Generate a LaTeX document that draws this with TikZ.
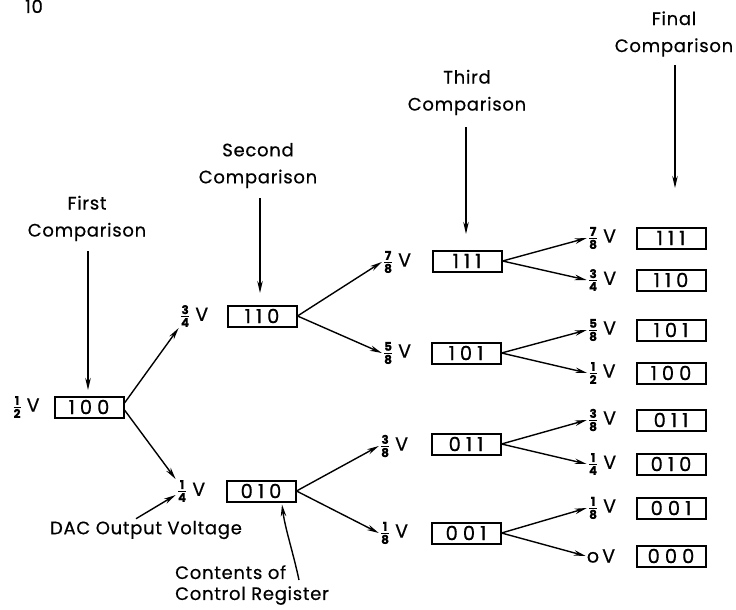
\documentclass[tikz,border=0pt]{standalone}
\usepackage{amsmath}
\usepackage{fontspec}
\setmainfont{Poppins}[LetterSpace=4,FakeBold=0.5]
\usetikzlibrary{arrows.meta}
\newcommand\fr[2]{$\genfrac{}{}{1.1pt}{}{\hbox{\fontsize{12}{12}\selectfont\bfseries #1}}{\hbox{\fontsize{12}{12}\selectfont\bfseries #2}}$\hspace{5pt}}
\newcommand\bits[3]{#1\hspace{5pt}#2\hspace{5pt}#3}
\begin{document}
\begin{tikzpicture}[x=1pt,y=-1pt,
  reg/.style={draw,line width=2pt,minimum width=69pt,minimum height=21pt,inner sep=0pt,font=\fontsize{19.5}{19.5}\selectfont},
  volt/.style={inner sep=1pt,font=\fontsize{19}{19}\selectfont},
  capt/.style={align=center,font=\fontsize{18}{27}\selectfont,inner sep=0pt},
  arr/.style={line width=1.4pt,-{Stealth[length=12pt,width=5.5pt]}},
  note/.style={font=\fontsize{18}{21}\selectfont,inner sep=0pt}]
\useasboundingbox (0,0) rectangle (736,610);
\fill[white] (0,0) rectangle (736,610);

\node[anchor=base,font=\fontsize{18}{18}\selectfont] (pg) at (34,13) {10};

% captions
\node[capt] (c1) at (87,218.5) {First\\Comparison};
\node[capt] (c2) at (258,165.5) {Second\\Comparison};
\node[capt] (c3) at (467,92.5) {Third\\Comparison};
\node[capt] (c4) at (674,34) {Final\\Comparison};
\coordinate (t1) at (88,390);
\coordinate (t2) at (260,293);
\coordinate (t3) at (466,234);
\coordinate (t4) at (675,188);
\draw[arr] (c1.south -| t1) ++(0,10) -- (t1);
\draw[arr] (c2.south -| t2) ++(0,10) -- (t2);
\draw[arr] (c3.south -| t3) ++(0,12) -- (t3);
\draw[arr] (c4.south -| t4) ++(0,8) -- (t4);

% first level
\node[reg] (b100) at (89,407) {\bits100};
\node[volt] (v100) at (26,407) {\fr12V};

% second level
\node[reg] (b110) at (262,316) {\bits110};
\node[volt] (v110) at (194,316) {\fr34V};
\node[reg] (b010) at (261,491) {\bits010};
\node[volt] (v010) at (191,491) {\fr14V};

% third level
\node[reg] (b111) at (467,261) {\bits111};
\node[volt] (v111) at (397,262) {\fr78V};
\node[reg] (b101) at (466,353) {\bits101};
\node[volt] (v101) at (397,353) {\fr58V};
\node[reg] (b011) at (466,444) {\bits011};
\node[volt] (v011) at (394,446) {\fr38V};
\node[reg] (b001) at (466,533) {\bits001};
\node[volt] (v001) at (394,533) {\fr18V};

% final level
\node[reg] (f111) at (671,238) {\bits111};
\node[volt] (g111) at (602,238) {\fr78V};
\node[reg] (f110) at (671,280) {\bits110};
\node[volt] (g110) at (602,280) {\fr34V};
\node[reg] (f101) at (671,330) {\bits101};
\node[volt] (g101) at (602,330) {\fr58V};
\node[reg] (f100) at (671,373) {\bits100};
\node[volt] (g100) at (602,373) {\fr12V};
\node[reg] (f011) at (671,420) {\bits011};
\node[volt] (g011) at (602,420) {\fr38V};
\node[reg] (f010) at (671,464) {\bits010};
\node[volt] (g010) at (602,464) {\fr14V};
\node[reg] (f001) at (671,508) {\bits001};
\node[volt] (g001) at (602,508) {\fr18V};
\node[reg] (f000) at (671,556) {\bits000};
\node[volt] (g000) at (601,556) {o\,V};

% tree arrows
\draw[arr] ([yshift=4pt]b100.east) -- (v110.south west);
\draw[arr] ([yshift=-3pt]b100.east) -- (v010.north west);
\draw[arr] (b110.east) -- (v111.west);
\draw[arr] (b110.east) -- (v101.west);
\draw[arr] (b010.east) -- (v011.west);
\draw[arr] (b010.east) -- (v001.west);
\draw[arr] (b111.east) -- (g111.west);
\draw[arr] (b111.east) -- (g110.west);
\draw[arr] (b101.east) -- (g101.west);
\draw[arr] (b101.east) -- (g100.west);
\draw[arr] (b011.east) -- (g011.west);
\draw[arr] (b011.east) -- (g010.west);
\draw[arr] (b001.east) -- (g001.west);
\draw[arr] (b001.east) -- (g000.west);

% annotations
\node[note] (dac) at (146,530) {DAC Output Voltage};
\draw[arr] ([xshift=-10pt,yshift=2pt]dac.north) -- ([yshift=-4pt]v010.west);
\node[note,align=left,anchor=north west] (cont) at (175,565) {Contents of\\Control Register};
\coordinate (ct) at (299,580);
\draw[arr] (ct) .. controls (293,552) and (285,528) .. ([xshift=21pt,yshift=-2pt]b010.south);
\end{tikzpicture}
\end{document}
